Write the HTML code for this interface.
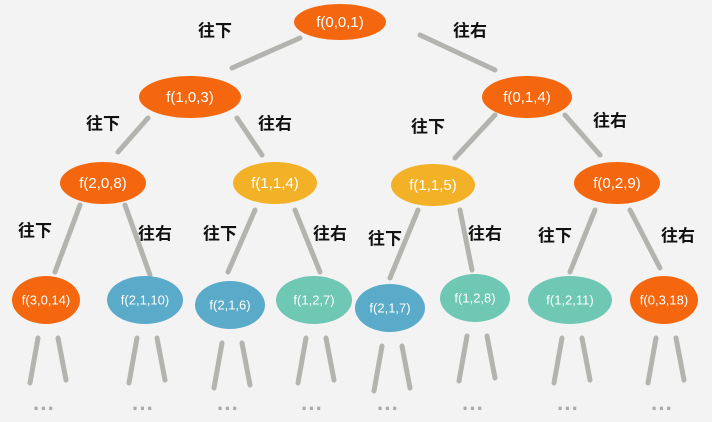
<!DOCTYPE html>
<html><head><meta charset="utf-8"><style>
html,body{margin:0;padding:0;background:#f3f3f3;}
svg{display:block;}
text{font-family:"Liberation Sans","Noto Sans CJK SC",sans-serif;}
</style></head><body>
<svg id="tree" width="712" height="422" viewBox="0 0 712 422">
<rect width="712" height="422" fill="#f3f3f3"/>
<g id="edges"></g><g id="nodes"></g><g id="labels"></g><g id="dots"></g>
</svg>
<script>
const nodeLabels=["f(0,0,1)","f(1,0,3)","f(0,1,4)","f(2,0,8)","f(1,1,4)","f(1,1,5)","f(0,2,9)","f(3,0,14)","f(2,1,10)","f(2,1,6)","f(1,2,7)","f(2,1,7)","f(1,2,8)","f(1,2,11)","f(0,3,18)"];
const nodeX=[340,190,527,103,275,433,617,46,145,230,314,390,475,570,664];
const nodeY=[22,97,97,183,183,185,183,300,300,305,300,308,298,300,300];
const nodeW=[92,102,90,86,84,84,86,68,76,70,76,70,70,84,68];
const nodeColor=["#f4670f","#f4670f","#f4670f","#f4670f","#f2b126","#f2b126","#f4670f","#f4670f","#5aaac9","#5aaac9","#6ec8b4","#5aaac9","#6ec8b4","#6ec8b4","#f4670f"];
const edges=[[300,38,232,68],[420,35,495,70],[148,118,118,152],[237,118,262,155],[495,115,455,158],[565,115,600,155],[80,205,55,272],[125,205,150,275],[255,210,228,272],[295,210,320,272],[418,210,390,278],[460,210,472,270],[595,210,570,272],[630,210,660,268]];
const edgeText=["往下","往右","往下","往右","往下","往右","往下","往右","往下","往右","往下","往右","往下","往右"];
const textX=[215,470,103,275,428,610,35,155,220,330,385,485,555,678];
const textY=[32,32,125,125,128,122,232,235,235,235,240,235,237,237];
const NS="http://www.w3.org/2000/svg";
const E=document.getElementById('edges'),N=document.getElementById('nodes'),L=document.getElementById('labels'),D=document.getElementById('dots');
function mk(t,a){const e=document.createElementNS(NS,t);for(const k in a)e.setAttribute(k,a[k]);return e;}
edges.forEach((p,i)=>{const l=mk('line',{x1:p[0],y1:p[1],x2:p[2],y2:p[3],stroke:'#b3b3b0','stroke-width':5,'stroke-linecap':'round'});

E.appendChild(l);
const t=mk('text',{x:textX[i],y:textY[i],'font-size':17,'font-weight':'bold','text-anchor':'middle','dominant-baseline':'middle',fill:'#111'});t.textContent=edgeText[i];

L.appendChild(t);});
nodeLabels.forEach((s,i)=>{const g=mk('g',{});


g.appendChild(mk('ellipse',{cx:nodeX[i],cy:nodeY[i],rx:nodeW[i]/2,ry:i<1?18:(i<7?21:24),fill:nodeColor[i]}));
const t=mk('text',{x:nodeX[i],y:nodeY[i]+1,'font-size':i<7?15:13,'text-anchor':'middle','dominant-baseline':'middle',fill:'#fff'});t.textContent=s;g.appendChild(t);N.appendChild(g);
if(i>=7){const x=nodeX[i],y0=nodeY[i]+38;
[[x-8,y0,x-16,y0+45],[x+12,y0,x+20,y0+42]].forEach(p=>{const l=mk('line',{x1:p[0],y1:p[1],x2:p[2],y2:p[3],stroke:'#b3b3b0','stroke-width':5,'stroke-linecap':'round'});

E.appendChild(l);});
const d=mk('text',{x:x-2,y:416,'font-size':22,'font-weight':'bold','text-anchor':'middle',fill:'#aaa'});d.textContent='···';

D.appendChild(d);}});
</script>
</body></html>
